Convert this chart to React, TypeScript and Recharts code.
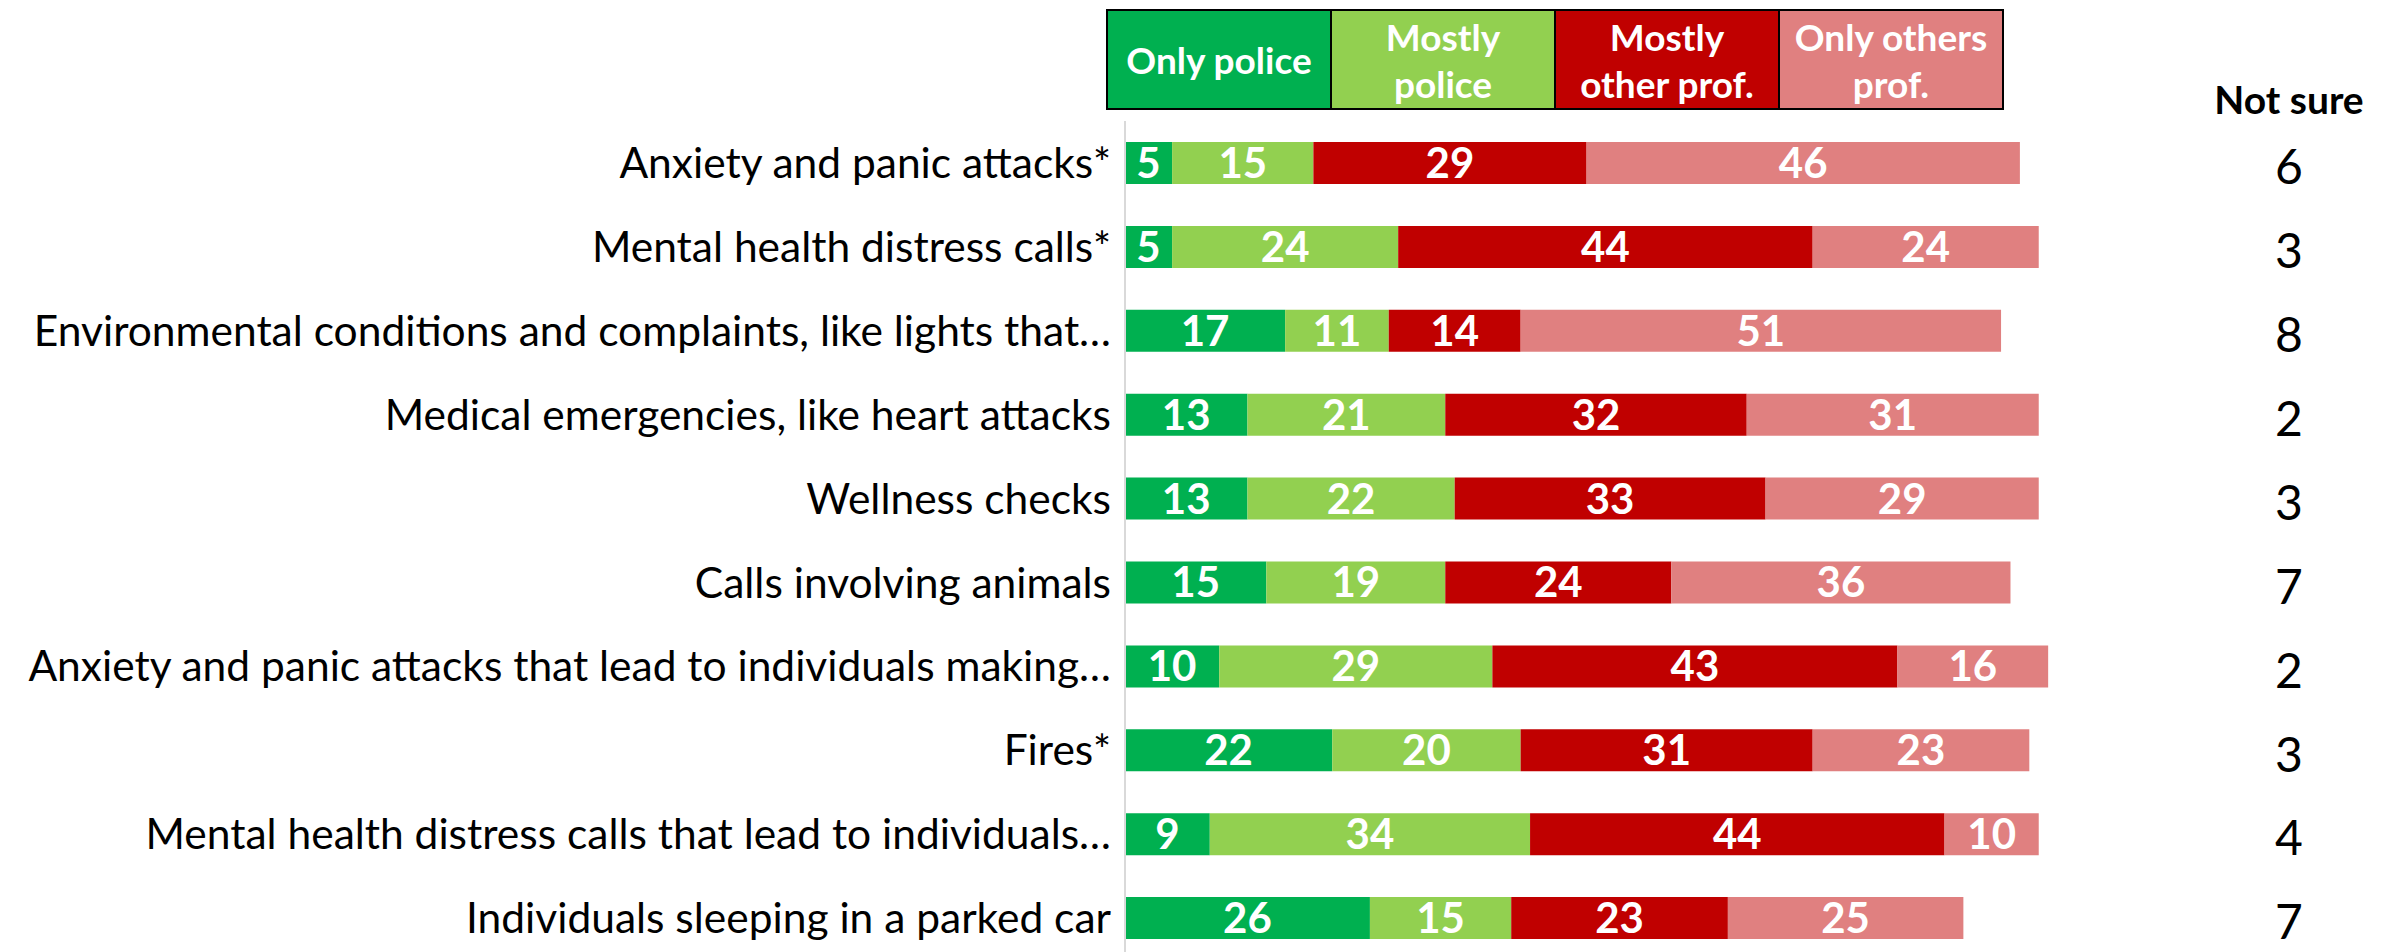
import { BarChart, Bar, XAxis, YAxis, LabelList } from 'recharts';

// Survey: who should respond to each type of call
const categories = [
  'Anxiety and panic attacks*',
  'Mental health distress calls*',
  'Environmental conditions and complaints, like lights that…',
  'Medical emergencies, like heart attacks',
  'Wellness checks',
  'Calls involving animals',
  'Anxiety and panic attacks that lead to individuals making…',
  'Fires*',
  'Mental health distress calls that lead to individuals…',
  'Individuals sleeping in a parked car',
];
const onlyPolice = [5, 5, 17, 13, 13, 15, 10, 22, 9, 26];
const mostlyPolice = [15, 24, 11, 21, 22, 19, 29, 20, 34, 15];
const mostlyOther = [29, 44, 14, 32, 33, 24, 43, 31, 44, 23];
const onlyOthers = [46, 24, 51, 31, 29, 36, 16, 23, 10, 25];
const notSure = [6, 3, 8, 2, 3, 7, 2, 3, 4, 7];

const legendItems = [
  { label: ['Only police'], color: '#00B050' },
  { label: ['Mostly', 'police'], color: '#92D050' },
  { label: ['Mostly', 'other prof.'], color: '#C00000' },
  { label: ['Only others', 'prof.'], color: '#E08080' },
];

const FONT = 'Lato, "Noto Sans", sans-serif';

const data = categories.map((name, i) => ({
  name,
  onlyPolice: onlyPolice[i],
  mostlyPolice: mostlyPolice[i],
  mostlyOther: mostlyOther[i],
  onlyOthers: onlyOthers[i],
  notSure: notSure[i],
}));

// draws the "Not sure" value in its own column, aligned with each bar
const NotSureLabel = (props: any) => {
  const { y, height, value } = props;
  return (
    <text
      x={2289}
      y={y + height / 2 + 4}
      dy="0.36em"
      textAnchor="middle"
      fontSize={48}
      fontFamily={FONT}
      fill="#000"
    >
      {value}
    </text>
  );
};

export default function App() {
  const segLabel = {
    position: 'center' as const,
    fill: '#fff',
    fontSize: 42,
    fontWeight: 700,
    fontFamily: FONT,
  };

  return (
    <div
      style={{
        position: 'fixed',
        left: 0,
        top: 0,
        width: 2385,
        height: 952,
        overflow: 'hidden',
        background: '#fff',
        fontFamily: FONT,
      }}
    >
      {/* Legend */}
      <div style={{ position: 'absolute', left: 1106, top: 9, display: 'flex', border: '2px solid #000' }}>
        {legendItems.map((item, i) => (
          <div
            key={i}
            style={{
              width: 222,
              height: 97,
              background: item.color,
              borderLeft: i > 0 ? '2px solid #000' : 'none',
              color: '#fff',
              fontWeight: 700,
              fontSize: 37,
              lineHeight: '47px',
              display: 'flex',
              flexDirection: 'column',
              alignItems: 'center',
              justifyContent: 'center',
              whiteSpace: 'nowrap',
              overflow: 'hidden',
            }}
          >
            {item.label.map((l, j) => (
              <span key={j}>{l}</span>
            ))}
          </div>
        ))}
      </div>

      <div
        style={{
          position: 'absolute',
          left: 2289,
          top: 76,
          transform: 'translateX(-50%)',
          fontWeight: 700,
          fontSize: 39,
          whiteSpace: 'nowrap',
          color: '#000',
        }}
      >
        Not sure
      </div>

      <div style={{ position: 'absolute', left: 0, top: 0 }}>
        <BarChart
          width={2385}
          height={962}
          data={data}
          layout="vertical"
          margin={{ top: 121, right: 318, bottom: 2, left: 0 }}
          barSize={42}
        >
          <XAxis type="number" domain={[0, 100]} hide />
          <YAxis
            type="category"
            dataKey="name"
            width={1125}
            tickLine={false}
            tickSize={0}
            tickMargin={14}
            axisLine={{ stroke: '#d9d9d9', strokeWidth: 2 }}
            tick={{ fontSize: 42.5, fill: '#000', fontFamily: FONT }}
            interval={0}
          />
          <Bar dataKey="onlyPolice" stackId="a" fill="#00B050" isAnimationActive={false}>
            <LabelList dataKey="onlyPolice" {...segLabel} />
          </Bar>
          <Bar dataKey="mostlyPolice" stackId="a" fill="#92D050" isAnimationActive={false}>
            <LabelList dataKey="mostlyPolice" {...segLabel} />
          </Bar>
          <Bar dataKey="mostlyOther" stackId="a" fill="#C00000" isAnimationActive={false}>
            <LabelList dataKey="mostlyOther" {...segLabel} />
          </Bar>
          <Bar dataKey="onlyOthers" stackId="a" fill="#E08080" isAnimationActive={false}>
            <LabelList dataKey="onlyOthers" {...segLabel} />
            <LabelList dataKey="notSure" content={NotSureLabel} />
          </Bar>
        </BarChart>
      </div>
    </div>
  );
}
